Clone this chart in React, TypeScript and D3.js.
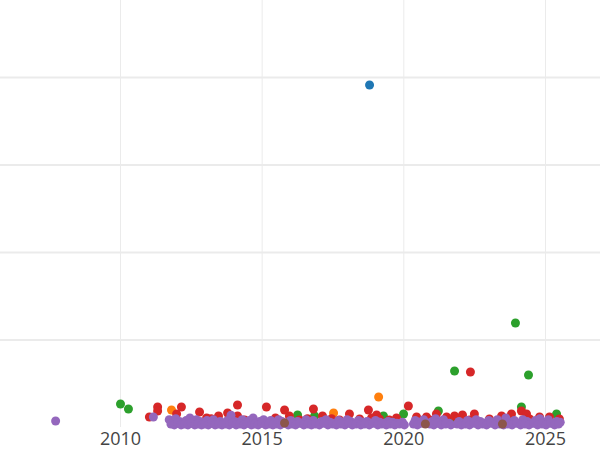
import React from "react";
import * as d3 from "d3";

const xTicks = [2010, 2015, 2020, 2025];
const yGrid = [1, 2, 3, 4];

const blueSeries: [number, number][] = [[2018.79, 3.914]];

const orangeSeries: [number, number][] = [
  [2011.8, 0.2], [2017.52, 0.166], [2019.11, 0.349],
];

const greenSeries: [number, number][] = [
  [2010.0, 0.269], [2010.28, 0.211], [2016.25, 0.143], [2016.85, 0.131],
  [2019.28, 0.131], [2019.99, 0.154], [2021.22, 0.189], [2021.72, 0.086],
  [2021.79, 0.646], [2023.94, 1.194], [2024.15, 0.234], [2024.4, 0.6],
  [2025.39, 0.154],
];

const redSeries: [number, number][] = [
  [2011.02, 0.12], [2011.31, 0.234], [2011.31, 0.189], [2011.98, 0.154],
  [2012.15, 0.234], [2012.79, 0.177], [2013.04, 0.109], [2013.46, 0.131],
  [2013.78, 0.166], [2014.13, 0.257], [2014.13, 0.131], [2015.15, 0.234],
  [2015.47, 0.109], [2015.79, 0.2], [2015.96, 0.131], [2016.81, 0.211],
  [2017.13, 0.131], [2018.08, 0.154], [2018.75, 0.2], [2019.04, 0.143],
  [2019.74, 0.109], [2020.16, 0.246], [2020.45, 0.12], [2020.8, 0.12],
  [2021.15, 0.154], [2021.51, 0.12], [2021.79, 0.131], [2022.07, 0.143],
  [2022.35, 0.634], [2022.49, 0.154], [2023.45, 0.131], [2023.8, 0.154],
  [2024.15, 0.189], [2024.33, 0.154], [2024.79, 0.12], [2025.14, 0.12],
  [2025.49, 0.097],
  [2012.44, 0.086], [2014.38, 0.086], [2016.32, 0.086], [2017.73, 0.086],
  [2018.44, 0.097], [2019.49, 0.086], [2020.91, 0.086], [2022.32, 0.086],
  [2023.02, 0.097], [2024.44, 0.097], [2018.86, 0.109], [2019.14, 0.097],
  [2013.2, 0.1], [2016.6, 0.1], [2017.45, 0.1], [2021.9, 0.1], [2023.6, 0.1],
];

const purpleSeries: [number, number][] = [
  [2007.71, 0.074], [2011.16, 0.12],
  [2011.72, 0.09], [2011.85, 0.06], [2011.95, 0.1], [2012.08, 0.07], [2012.2, 0.05],
  [2012.32, 0.08], [2012.45, 0.11], [2012.55, 0.06], [2012.68, 0.09], [2012.8, 0.07],
  [2012.92, 0.05], [2013.05, 0.08], [2013.15, 0.06], [2013.28, 0.09], [2013.4, 0.06],
  [2013.52, 0.07], [2013.65, 0.05], [2013.78, 0.08], [2013.9, 0.14], [2014.02, 0.07],
  [2014.15, 0.06], [2014.3, 0.09], [2014.42, 0.05], [2014.55, 0.08], [2014.68, 0.11],
  [2014.8, 0.06], [2014.92, 0.07], [2015.05, 0.09], [2015.18, 0.05], [2015.3, 0.08],
  [2015.45, 0.06], [2015.58, 0.09], [2015.7, 0.07], [2015.85, 0.05], [2016.0, 0.08],
  [2016.12, 0.06], [2016.25, 0.07], [2016.4, 0.05], [2016.55, 0.09], [2016.68, 0.06],
  [2016.8, 0.08], [2016.95, 0.05], [2017.1, 0.07], [2017.25, 0.09], [2017.4, 0.06],
  [2017.55, 0.05], [2017.7, 0.08], [2017.85, 0.06], [2018.0, 0.09], [2018.12, 0.07],
  [2018.25, 0.05], [2018.4, 0.08], [2018.55, 0.06], [2018.7, 0.07], [2018.85, 0.05],
  [2019.0, 0.08], [2019.15, 0.06], [2019.3, 0.05], [2019.45, 0.07], [2019.6, 0.06],
  [2019.75, 0.05], [2019.95, 0.06], [2020.4, 0.08], [2020.55, 0.06], [2020.7, 0.09],
  [2020.85, 0.05], [2021.0, 0.07], [2021.12, 0.1], [2021.25, 0.06], [2021.4, 0.09],
  [2021.6, 0.05], [2021.95, 0.07], [2022.1, 0.05], [2022.25, 0.08], [2022.4, 0.06],
  [2022.55, 0.09], [2022.7, 0.07], [2022.85, 0.05], [2023.0, 0.08], [2023.15, 0.06],
  [2023.3, 0.09], [2023.6, 0.11], [2023.75, 0.06], [2023.9, 0.08], [2024.05, 0.05],
  [2024.2, 0.09], [2024.35, 0.07], [2024.5, 0.05], [2024.65, 0.08], [2024.8, 0.1],
  [2024.95, 0.06], [2025.1, 0.09], [2025.25, 0.05], [2025.4, 0.07], [2025.52, 0.06],
  [2011.78, 0.04], [2011.9, 0.03], [2012.02, 0.05], [2012.14, 0.03], [2012.26, 0.04],
  [2012.38, 0.03], [2012.5, 0.05], [2012.62, 0.03], [2012.74, 0.04], [2012.86, 0.03],
  [2012.98, 0.04], [2013.1, 0.03], [2013.22, 0.05], [2013.34, 0.03], [2013.46, 0.04],
  [2013.58, 0.03], [2013.72, 0.04], [2013.84, 0.03], [2013.96, 0.05], [2014.08, 0.03],
  [2014.22, 0.04], [2014.36, 0.03], [2014.48, 0.05], [2014.62, 0.03], [2014.74, 0.04],
  [2014.86, 0.03], [2014.98, 0.05], [2015.12, 0.03], [2015.24, 0.04], [2015.38, 0.03],
  [2015.52, 0.04], [2015.64, 0.03], [2015.78, 0.05], [2015.92, 0.03], [2016.06, 0.04],
  [2016.18, 0.03], [2016.32, 0.05], [2016.47, 0.03], [2016.62, 0.04], [2016.74, 0.03],
  [2016.88, 0.04], [2017.02, 0.03], [2017.18, 0.05], [2017.32, 0.03], [2017.48, 0.04],
  [2017.62, 0.03], [2017.78, 0.04], [2017.92, 0.03], [2018.06, 0.05], [2018.18, 0.03],
  [2018.32, 0.04], [2018.48, 0.03], [2018.62, 0.04], [2018.78, 0.03], [2018.92, 0.05],
  [2019.08, 0.03], [2019.22, 0.04], [2019.38, 0.03], [2019.52, 0.04], [2019.68, 0.03],
  [2019.85, 0.04], [2020.02, 0.03], [2020.34, 0.04], [2020.48, 0.03], [2020.62, 0.05],
  [2020.92, 0.04], [2021.06, 0.03], [2021.18, 0.05], [2021.32, 0.03], [2021.48, 0.04],
  [2021.66, 0.03], [2021.88, 0.04], [2022.03, 0.03], [2022.18, 0.04], [2022.32, 0.03],
  [2022.48, 0.05], [2022.62, 0.03], [2022.78, 0.04], [2022.92, 0.03], [2023.08, 0.05],
  [2023.22, 0.03], [2023.38, 0.04], [2023.52, 0.03], [2023.68, 0.04], [2023.82, 0.03],
  [2023.98, 0.05], [2024.12, 0.03], [2024.28, 0.04], [2024.42, 0.03], [2024.58, 0.05],
  [2024.72, 0.03], [2024.88, 0.04], [2025.02, 0.03], [2025.18, 0.05], [2025.32, 0.03],
  [2025.46, 0.04],
];

const brownSeries: [number, number][] = [
  [2015.79, 0.051], [2020.76, 0.04], [2023.48, 0.04],
];

const seriesList = [
  { data: blueSeries, color: "#1f77b4" },
  { data: orangeSeries, color: "#ff7f0e" },
  { data: greenSeries, color: "#2ca02c" },
  { data: redSeries, color: "#d62728" },
  { data: purpleSeries, color: "#9467bd" },
  { data: brownSeries, color: "#8c564b" },
];

const W = 600;
const H = 450;
const plotBottom = 427;

export default function App() {
  const x = d3.scaleLinear().domain([2010, 2025]).range([120.5, 545.5]);
  const y = d3.scaleLinear().domain([0, 1]).range([427.5, 340]);

  return (
    <svg
      width={W}
      height={H}
      style={{ position: "absolute", left: 0, top: 0, background: "#fff" }}
    >
      <rect x={0} y={0} width={W} height={H} fill="#fff" />
      {yGrid.map((v) => (
        <line key={"h" + v} x1={0} x2={W} y1={y(v)} y2={y(v)} stroke="#ebebeb" strokeWidth={2} />
      ))}
      {xTicks.map((t) => (
        <line key={"v" + t} x1={x(t)} x2={x(t)} y1={0} y2={plotBottom} stroke="#ebebeb" strokeWidth={1} />
      ))}
      {seriesList.map((s, i) => (
        <g key={i}>
          {s.data.map((d, j) => (
            <circle key={j} cx={x(d[0])} cy={y(d[1])} r={4.5} fill={s.color} />
          ))}
        </g>
      ))}
      {xTicks.map((t) => (
        <text
          key={"t" + t}
          x={x(t)}
          y={445}
          textAnchor="middle"
          fontFamily="'Open Sans', sans-serif"
          fontSize={18}
          fill="#444"
        >
          {d3.format("d")(t)}
        </text>
      ))}
    </svg>
  );
}
